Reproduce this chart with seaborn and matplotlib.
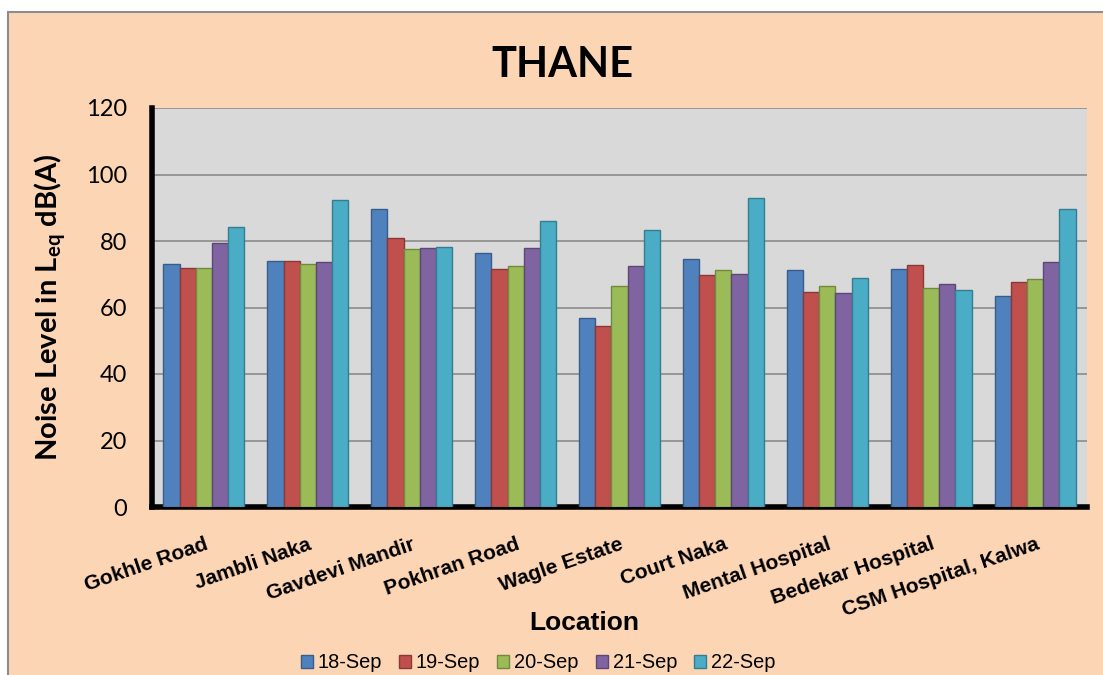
import matplotlib
matplotlib.use("Agg")
import matplotlib.pyplot as plt
from matplotlib.patches import Rectangle
import seaborn as sns
import pandas as pd

# Noise survey data, Thane (Leq dB(A))
locations = ["Gokhle Road", "Jambli Naka", "Gavdevi Mandir", "Pokhran Road",
             "Wagle Estate", "Court Naka", "Mental Hospital",
             "Bedekar Hospital", "CSM Hospital, Kalwa"]
days = ["18-Sep", "19-Sep", "20-Sep", "21-Sep", "22-Sep"]
sep18 = [73.1, 74.0, 89.5, 76.4, 56.9, 74.7, 71.3, 71.7, 63.6]
sep19 = [72.0, 74.0, 81.0, 71.7, 54.3, 69.7, 64.7, 72.8, 67.8]
sep20 = [72.0, 73.2, 77.6, 72.4, 66.6, 71.3, 66.6, 65.9, 68.6]
sep21 = [79.5, 73.6, 78.0, 77.9, 72.4, 70.1, 64.3, 67.0, 73.6]
sep22 = [84.1, 92.3, 78.3, 86.0, 83.3, 93.0, 69.0, 65.4, 89.5]
yticks = [0, 20, 40, 60, 80, 100, 120]

fill_colors = ["#4F81BD", "#C0504D", "#9BBB59", "#8064A2", "#4BACC6"]
edge_colors = ["#385D8A", "#8C3836", "#71893F", "#5C4776", "#357D91"]
peach = "#FCD5B5"

series = [sep18, sep19, sep20, sep21, sep22]
df = pd.DataFrame({
    "Location": [loc for _ in days for loc in locations],
    "Day": [d for d in days for _ in locations],
    "Level": [v for s in series for v in s],
})

sns.set_theme(style="white")
plt.rcParams["font.family"] = ["Liberation Sans", "DejaVu Sans"]
plt.rcParams["text.color"] = "black"
plt.rcParams["axes.labelcolor"] = "black"
plt.rcParams["xtick.color"] = "black"
plt.rcParams["ytick.color"] = "black"
plt.rcParams["mathtext.fontset"] = "custom"
plt.rcParams["mathtext.rm"] = "Lato"
plt.rcParams["mathtext.bf"] = "Lato:bold"

W, H = 1103, 675
fig = plt.figure(figsize=(W / 100, H / 100), dpi=100)
fig.patch.set_facecolor("white")
# chart area background with thin grey frame
fig.patches.append(Rectangle((8 / W, -0.01), 1.0, 1 - 12 / H + 0.01,
                             transform=fig.transFigure, facecolor=peach,
                             edgecolor="#8C8C8C", linewidth=1.5, zorder=-10))

x0, x1, ytop, ybot = 152, 1087, 108, 507
ax = fig.add_axes([x0 / W, 1 - ybot / H, (x1 - x0) / W, (ybot - ytop) / H])
ax.set_facecolor("#D9D9D9")

sns.barplot(data=df, x="Location", y="Level", hue="Day", order=locations,
            hue_order=days, palette=fill_colors, width=0.78, ax=ax,
            saturation=1, errorbar=None, zorder=3)

for container, ec in zip(ax.containers, edge_colors):
    for bar in container:
        bar.set_edgecolor(ec)
        bar.set_linewidth(1.0)

ax.set_ylim(0, 120)
ax.set_yticks(yticks)
ax.set_yticklabels([str(t) for t in yticks], fontsize=17, family="Lato")
ax.yaxis.grid(True, color="#8C8C8C", linewidth=1.2, zorder=0)
ax.set_axisbelow(True)
ax.tick_params(axis="y", direction="out", length=6, width=3, color="black", pad=12)
ax.tick_params(axis="x", length=0, pad=20)
for side in ["top", "right"]:
    ax.spines[side].set_visible(False)
for side in ["left", "bottom"]:
    ax.spines[side].set_linewidth(4)
    ax.spines[side].set_color("black")

ax.set_xticks(range(len(locations)))
ax.set_xticklabels(locations, rotation=19, ha="right", rotation_mode="anchor",
                   fontsize=15, fontweight="bold")

ax.set_xlabel("Location", fontsize=19, fontweight="bold")
ax.xaxis.set_label_coords((584 - x0) / (x1 - x0), -(623 - ybot) / (ybot - ytop))
ax.xaxis.label.set_va("center")

ax.set_ylabel(r"Noise Level in L$_{\mathbf{eq}}$ dB(A)", fontsize=21,
              fontweight="bold", family="Lato", labelpad=12)

fig.text(562 / W, 1 - 65 / H, "THANE", ha="center", va="center",
         fontsize=30, fontweight="bold", family="Lato")

sns.move_legend(ax, "center", bbox_to_anchor=(538 / W, 12 / H),
                bbox_transform=fig.transFigure, ncol=5, frameon=False,
                title=None, fontsize=14.4, handlelength=0.6, handleheight=0.6,
                handletextpad=0.25, columnspacing=0.85)
for h, ec in zip(ax.get_legend().legend_handles, edge_colors):
    h.set_edgecolor(ec)

fig.savefig("out.png", dpi=100, facecolor=fig.get_facecolor())
